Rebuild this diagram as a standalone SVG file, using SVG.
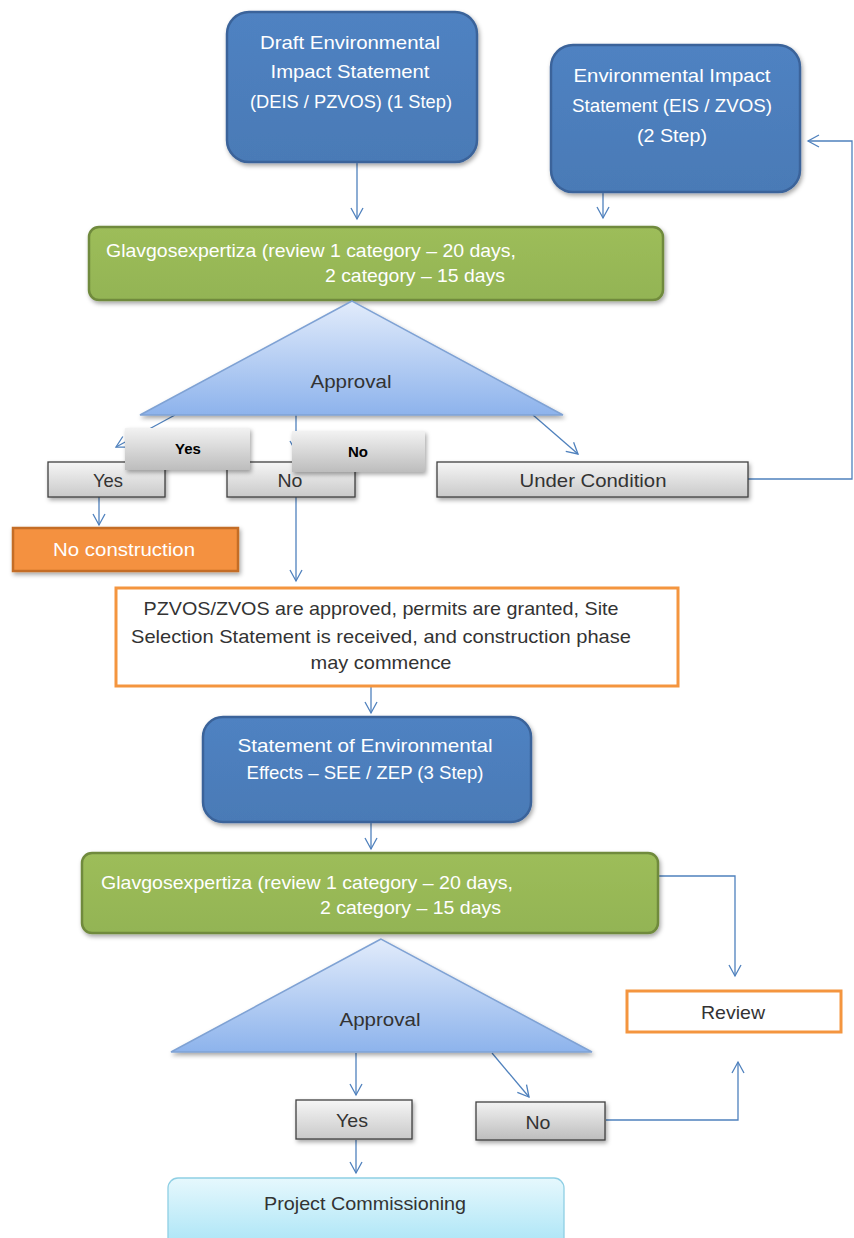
<svg xmlns="http://www.w3.org/2000/svg" width="854" height="1238" viewBox="0 0 854 1238">
<defs>
<linearGradient id="gBlue" x1="0" y1="0" x2="0" y2="1"><stop offset="0" stop-color="#4f82c2"/><stop offset="1" stop-color="#4a7ab6"/></linearGradient>
<linearGradient id="gGreen" x1="0" y1="0" x2="0" y2="1"><stop offset="0" stop-color="#9dbd5a"/><stop offset="1" stop-color="#93b454"/></linearGradient>
<linearGradient id="gTri" x1="0" y1="0" x2="0" y2="1"><stop offset="0" stop-color="#e2ecfb"/><stop offset="1" stop-color="#8db3ec"/></linearGradient>
<linearGradient id="gGray" x1="0" y1="0" x2="0" y2="1"><stop offset="0" stop-color="#f6f6f6"/><stop offset="1" stop-color="#c9c9c9"/></linearGradient>
<linearGradient id="gGray2" x1="0" y1="0" x2="0" y2="1"><stop offset="0" stop-color="#f2f2f2"/><stop offset="1" stop-color="#bdbdbd"/></linearGradient>
<linearGradient id="gCyan" x1="0" y1="0" x2="0" y2="1"><stop offset="0" stop-color="#e6f8fd"/><stop offset="1" stop-color="#a9e4f6"/></linearGradient>
<filter id="sh" x="-10%" y="-10%" width="130%" height="140%"><feDropShadow dx="1.5" dy="2.5" stdDeviation="2" flood-color="#000" flood-opacity="0.35"/></filter>
<marker id="ah" markerWidth="14" markerHeight="14" refX="12" refY="7" orient="auto" markerUnits="userSpaceOnUse"><path d="M1,1 L12,7 L1,13" fill="none" stroke="#4f81bd" stroke-width="1.3"/></marker>
</defs>
<style>
.t{font-family:"Liberation Sans",Arial,sans-serif;font-size:19px;}
.w{fill:#ffffff;}
.d{fill:#333333;}
.c{text-anchor:middle;}
.blue{fill:url(#gBlue);stroke:#3a639a;stroke-width:2.5;}
.green{fill:url(#gGreen);stroke:#6f8a3c;stroke-width:2.5;}
.tri{fill:url(#gTri);stroke:#7fa2d4;stroke-width:1.5;}
.gray{fill:url(#gGray);stroke:#404040;stroke-width:1.3;}
.conn{fill:none;stroke:#4f81bd;stroke-width:1.3;}
</style>
<rect width="854" height="1238" fill="#ffffff"/>

<g id="connectors">
<line class="conn" x1="357" y1="163" x2="357" y2="219" marker-end="url(#ah)"/>
<line class="conn" x1="603" y1="193" x2="603" y2="218" marker-end="url(#ah)"/>
<line class="conn" x1="175" y1="415" x2="116" y2="447" marker-end="url(#ah)"/>
<line class="conn" x1="296" y1="415" x2="296" y2="452" marker-end="url(#ah)"/>
<line class="conn" x1="533" y1="415" x2="578" y2="454" marker-end="url(#ah)"/>
<polyline class="conn" points="748,479 852,479 852,141 808,141" marker-end="url(#ah)"/>
<line class="conn" x1="99" y1="497" x2="99" y2="525" marker-end="url(#ah)"/>
<line class="conn" x1="296" y1="497" x2="296" y2="581" marker-end="url(#ah)"/>
<line class="conn" x1="371" y1="687" x2="371" y2="713" marker-end="url(#ah)"/>
<line class="conn" x1="371" y1="823" x2="371" y2="849" marker-end="url(#ah)"/>
<polyline class="conn" points="659,876 735,876 735,976" marker-end="url(#ah)"/>
<line class="conn" x1="356" y1="1053" x2="356" y2="1095" marker-end="url(#ah)"/>
<line class="conn" x1="492" y1="1053" x2="529" y2="1097" marker-end="url(#ah)"/>
<polyline class="conn" points="606,1120 738,1120 738,1062" marker-end="url(#ah)"/>
<line class="conn" x1="356" y1="1140" x2="356" y2="1173" marker-end="url(#ah)"/>
</g>

<g id="deis">
<rect class="blue" x="227" y="12" width="250" height="150" rx="22" filter="url(#sh)"/>
<text class="t w c" x="350" y="49" textLength="180" lengthAdjust="spacingAndGlyphs">Draft Environmental</text>
<text class="t w c" x="350" y="78" textLength="159" lengthAdjust="spacingAndGlyphs">Impact Statement</text>
<text class="t w c" x="351" y="108" textLength="202" lengthAdjust="spacingAndGlyphs">(DEIS / PZVOS) (1 Step)</text>
</g>

<g id="eis">
<rect class="blue" x="551" y="45" width="249" height="147" rx="22" filter="url(#sh)"/>
<text class="t w c" x="672" y="82" textLength="197" lengthAdjust="spacingAndGlyphs">Environmental Impact</text>
<text class="t w c" x="672" y="112" textLength="200" lengthAdjust="spacingAndGlyphs">Statement (EIS / ZVOS)</text>
<text class="t w c" x="672" y="142" textLength="70" lengthAdjust="spacingAndGlyphs">(2 Step)</text>
</g>

<g id="glav1">
<rect class="green" x="89" y="227" width="574" height="73" rx="10" filter="url(#sh)"/>
<text class="t w" x="106" y="257" textLength="410" lengthAdjust="spacingAndGlyphs">Glavgosexpertiza (review 1 category – 20  days,</text>
<text class="t w" x="325" y="282" textLength="180" lengthAdjust="spacingAndGlyphs">2 category – 15 days</text>
</g>

<g id="approval1">
<polygon class="tri" points="352,301 140,415 563,415" filter="url(#sh)"/>
<text class="t d c" x="351" y="388" textLength="81" lengthAdjust="spacingAndGlyphs">Approval</text>
</g>

<g id="yes1">
<rect class="gray" x="48" y="462" width="117" height="35" filter="url(#sh)"/>
<text class="t d c" x="108" y="487" textLength="30" lengthAdjust="spacingAndGlyphs">Yes</text>
</g>

<g id="no1">
<rect class="gray" x="227" y="462" width="128" height="35" filter="url(#sh)"/>
<text class="t d c" x="290" y="487" textLength="25" lengthAdjust="spacingAndGlyphs">No</text>
</g>

<g id="cond">
<rect class="gray" x="437" y="462" width="311" height="35" filter="url(#sh)"/>
<text class="t d c" x="593" y="487" textLength="147" lengthAdjust="spacingAndGlyphs">Under Condition</text>
</g>

<g id="yesLabel">
<rect x="125" y="428" width="125" height="42" fill="url(#gGray2)" filter="url(#sh)"/>
<text x="188" y="454" font-family="Liberation Sans, Arial, sans-serif" font-size="15" font-weight="bold" fill="#000" text-anchor="middle">Yes</text>
</g>

<g id="noLabel">
<rect x="292" y="431" width="133" height="41" fill="url(#gGray2)" filter="url(#sh)"/>
<text x="358" y="457" font-family="Liberation Sans, Arial, sans-serif" font-size="15" font-weight="bold" fill="#000" text-anchor="middle">No</text>
</g>

<g id="noConstruction">
<rect x="13" y="528" width="225" height="43" fill="#f4913f" stroke="#c46d25" stroke-width="2.5" filter="url(#sh)"/>
<text class="t w c" x="124" y="556" textLength="142" lengthAdjust="spacingAndGlyphs">No construction</text>
</g>

<g id="approved">
<rect x="116" y="588" width="562" height="98" fill="#ffffff" stroke="#f4953f" stroke-width="3"/>
<text class="t d c" x="381" y="615" textLength="475" lengthAdjust="spacingAndGlyphs">PZVOS/ZVOS are approved, permits are granted, Site</text>
<text class="t d c" x="381" y="643" textLength="500" lengthAdjust="spacingAndGlyphs">Selection Statement is received, and construction phase</text>
<text class="t d c" x="381" y="669" textLength="141" lengthAdjust="spacingAndGlyphs">may commence</text>
</g>

<g id="see">
<rect class="blue" x="203" y="717" width="328" height="105" rx="20" filter="url(#sh)"/>
<text class="t w c" x="365" y="752" textLength="255" lengthAdjust="spacingAndGlyphs">Statement of Environmental</text>
<text class="t w c" x="365" y="779" textLength="237" lengthAdjust="spacingAndGlyphs">Effects – SEE / ZEP (3 Step)</text>
</g>

<g id="glav2">
<rect class="green" x="82" y="853" width="576" height="80" rx="10" filter="url(#sh)"/>
<text class="t w" x="101" y="889" textLength="412" lengthAdjust="spacingAndGlyphs">Glavgosexpertiza (review 1 category – 20  days,</text>
<text class="t w" x="320" y="914" textLength="181" lengthAdjust="spacingAndGlyphs">2 category – 15 days</text>
</g>

<g id="approval2">
<polygon class="tri" points="381,939 171,1052 592,1052" filter="url(#sh)"/>
<text class="t d c" x="380" y="1026" textLength="81" lengthAdjust="spacingAndGlyphs">Approval</text>
</g>

<g id="review">
<rect x="627" y="991" width="214" height="41" fill="#ffffff" stroke="#f4953f" stroke-width="3"/>
<text class="t d c" x="733" y="1019" textLength="64" lengthAdjust="spacingAndGlyphs">Review</text>
</g>

<g id="yes2">
<rect class="gray" x="296" y="1100" width="116" height="39" filter="url(#sh)"/>
<text class="t d c" x="352" y="1127" textLength="32" lengthAdjust="spacingAndGlyphs">Yes</text>
</g>

<g id="no2">
<rect x="476" y="1102" width="129" height="38" fill="url(#gGray2)" stroke="#404040" stroke-width="1.3" filter="url(#sh)"/>
<text class="t d c" x="538" y="1129" textLength="25" lengthAdjust="spacingAndGlyphs">No</text>
</g>

<g id="commissioning">
<rect x="168" y="1178" width="396" height="70" rx="10" fill="url(#gCyan)" stroke="#8fcfe4" stroke-width="1.3"/>
<text class="t d c" x="365" y="1210" textLength="202" lengthAdjust="spacingAndGlyphs">Project Commissioning</text>
</g>
</svg>
